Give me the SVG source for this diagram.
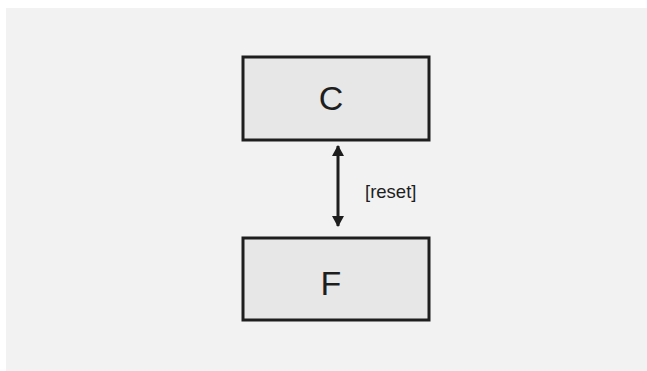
<svg xmlns="http://www.w3.org/2000/svg" width="647" height="371" viewBox="0 0 647 371">
<style>
.node{fill:#e6e7e6;stroke:#1e1e1e;stroke-width:3}
.lbl{font-family:"Liberation Sans",Arial,sans-serif;fill:#1e1e1e}
.big{font-size:34px;text-anchor:middle}
.small{font-size:18.5px}
.conn{stroke:#1e1e1e;stroke-width:3;fill:none}
</style>
<defs>
<marker id="ah" viewBox="0 0 11 12" refX="10" refY="6" markerWidth="11" markerHeight="12" markerUnits="userSpaceOnUse" orient="auto-start-reverse">
<path d="M0,0 L11,6 L0,12 Z" fill="#1e1e1e"/>
</marker>
</defs>
<rect x="6" y="8" width="641" height="363" fill="#f2f2f2"/>
<g id="node-C">
<rect class="node" x="243" y="57" width="186" height="83"/>
<text class="lbl big" x="331" y="110">C</text>
</g>
<g id="node-F">
<rect class="node" x="243" y="238" width="186" height="82"/>
<text class="lbl big" x="331" y="295">F</text>
</g>
<g id="connectors">
<line class="conn" x1="338" y1="146" x2="338" y2="226" marker-start="url(#ah)" marker-end="url(#ah)"/>
<text class="lbl small" x="365" y="198">[reset]</text>
</g>
</svg>
